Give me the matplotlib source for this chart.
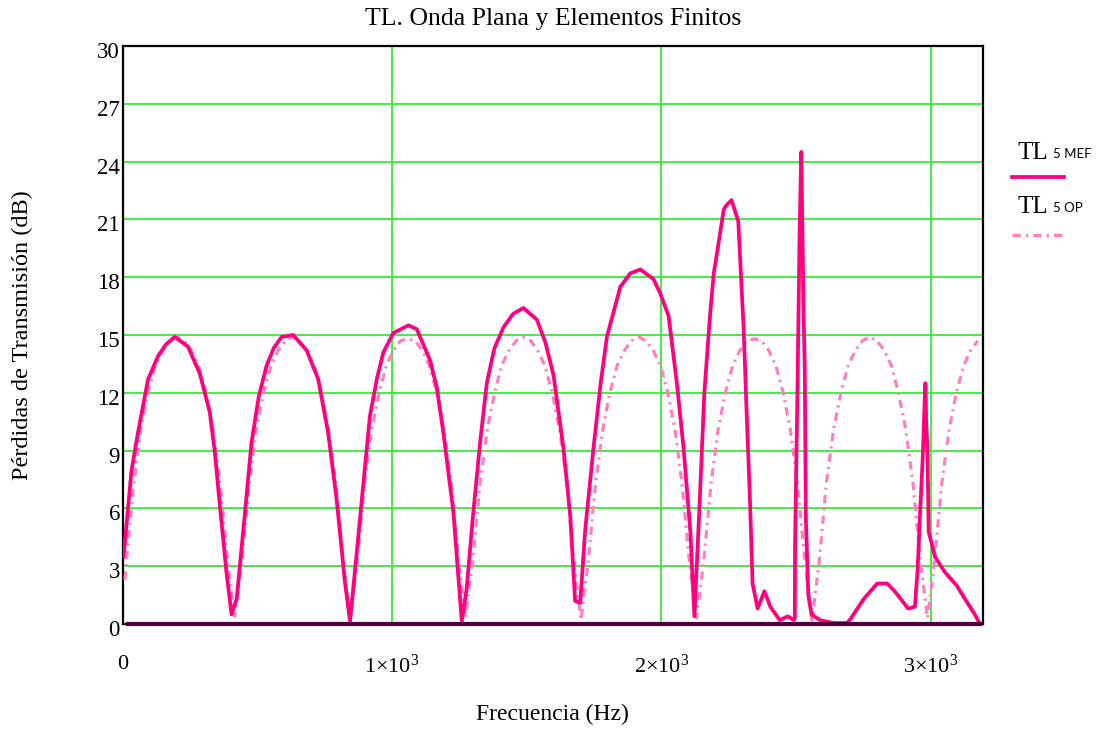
import matplotlib.pyplot as plt
import matplotlib.transforms as mtransforms
from matplotlib.lines import Line2D

# TL onda plana (OP)
op_freq = [8, 14, 41, 67, 94, 121, 148, 175, 201, 228, 255, 282, 309, 335, 362, 389, 416,
           443, 470, 496, 523, 550, 577, 604, 630, 657, 684, 711, 738, 764, 791, 818, 845,
           871, 898, 925, 952, 979, 1005, 1032, 1059, 1086, 1113, 1139, 1166, 1193, 1220, 1247, 1273,
           1300, 1327, 1354, 1381, 1407, 1434, 1461, 1488, 1515, 1541, 1568, 1595, 1622, 1649, 1675, 1702,
           1729, 1756, 1783, 1809, 1836, 1863, 1890, 1917, 1943, 1970, 1997, 2024, 2051, 2077, 2104, 2131,
           2158, 2185, 2211, 2238, 2265, 2292, 2319, 2345, 2372, 2399, 2426, 2453, 2479, 2506, 2533, 2560,
           2587, 2613, 2640, 2667, 2694, 2721, 2747, 2774, 2801, 2828, 2855, 2881, 2908, 2935, 2962, 2989,
           3015, 3042, 3069, 3096, 3123, 3149, 3176]
op_tl = [2.3, 3.3, 7.3, 10.1, 12.0, 13.4, 14.2, 14.7, 14.9, 14.7, 14.2, 13.4, 12.0, 10.1, 7.3, 3.3, 0.4,
         3.3, 7.3, 10.1, 12.0, 13.4, 14.2, 14.7, 14.9, 14.7, 14.2, 13.4, 12.0, 10.1, 7.3, 3.3, 0.2,
         3.3, 7.3, 10.1, 12.0, 13.4, 14.2, 14.7, 14.8, 14.7, 14.2, 13.4, 12.0, 10.1, 7.3, 3.3, 0.3,
         3.3, 7.3, 10.1, 12.0, 13.4, 14.2, 14.7, 14.9, 14.7, 14.2, 13.4, 12.0, 10.1, 7.3, 3.3, 0.2,
         3.3, 7.3, 10.1, 12.0, 13.4, 14.2, 14.7, 14.9, 14.7, 14.2, 13.4, 12.0, 10.1, 7.3, 3.3, 0.3,
         3.3, 7.3, 10.1, 12.0, 13.4, 14.2, 14.7, 14.8, 14.7, 14.2, 13.4, 12.0, 10.1, 7.3, 3.3, 0.2,
         3.3, 7.3, 10.1, 12.0, 13.4, 14.2, 14.7, 14.9, 14.7, 14.2, 13.4, 12.0, 10.1, 7.3, 3.3, 0.3,
         3.3, 7.3, 10.1, 12.0, 13.4, 14.2, 14.7]

# TL elementos finitos (MEF)
mef_freq = [3, 32, 56, 94, 131, 160, 193, 242, 286, 323,
            342, 361, 385, 404, 423, 454, 478, 505, 534, 560,
            590, 633, 683, 726, 763, 794, 825, 844, 862, 893,
            918, 945, 968, 1005, 1061, 1092, 1141, 1166, 1191, 1228,
            1259, 1277, 1300, 1327, 1352, 1380, 1414, 1450, 1488, 1538,
            1570, 1600, 1637, 1662, 1680, 1699, 1717, 1748, 1775, 1798,
            1848, 1885, 1922, 1971, 1995, 2027, 2058, 2083, 2108, 2123,
            2140, 2160, 2181, 2195, 2212, 2232, 2240, 2261, 2286, 2306,
            2317, 2329, 2339, 2358, 2383, 2405, 2440, 2470, 2492, 2496,
            2497, 2502, 2506, 2510, 2514, 2520, 2524, 2528, 2533, 2537,
            2546, 2558, 2589, 2640, 2690, 2703, 2752, 2802, 2839, 2867,
            2917, 2942, 2952, 2960, 2972, 2978, 2981, 2984, 2989, 2993,
            3004, 3016, 3053, 3097, 3128, 3160, 3180]
mef_tl = [3.5, 7.9, 9.9, 12.7, 13.9, 14.5, 14.9, 14.4, 13.0, 11.0,
          8.9, 6.1, 2.7, 0.5, 1.3, 5.8, 9.4, 11.8, 13.4, 14.3,
          14.9, 15.0, 14.2, 12.7, 9.9, 6.5, 2.2, 0.15, 2.7, 7.2,
          10.8, 12.8, 14.1, 15.1, 15.5, 15.3, 13.7, 12.3, 9.9, 5.8,
          0.15, 1.8, 5.5, 9.4, 12.5, 14.3, 15.4, 16.1, 16.4, 15.8,
          14.6, 12.9, 9.1, 5.6, 1.2, 1.1, 4.8, 9.1, 12.5, 14.9,
          17.5, 18.2, 18.4, 17.9, 17.2, 16.0, 12.5, 9.1, 4.8, 0.4,
          5.5, 12.0, 16.0, 18.2, 19.7, 21.5, 21.7, 22.0, 20.9, 15.3,
          11.0, 6.6, 2.1, 0.8, 1.7, 0.9, 0.2, 0.4, 0.2, 0.3,
          4.2, 8.7, 12.3, 16.4, 20.6, 24.5, 20.6, 16.6, 13.2, 5.5,
          1.5, 0.5, 0.2, 0.05, 0.05, 0.26, 1.3, 2.1, 2.1, 1.7,
          0.8, 0.9, 2.8, 5.4, 8.9, 11.5, 12.5, 10.5, 8.9, 4.8,
          4.2, 3.5, 2.7, 2.0, 1.3, 0.6, 0.1]

# third trace: zero line
zero_freq = [20, 3183]
zero_tl = [0, 0]

y_ticks = [0, 3, 6, 9, 12, 15, 18, 21, 24, 27, 30]
x_ticks = [0, 1000, 2000, 3000]
x_tick_labels = ['0', '1×10$^{3}$', '2×10$^{3}$', '3×10$^{3}$']

MEF_COLOR = '#ff0080'
OP_COLOR = '#ff80c0'
GRID_COLOR = '#33ee33'
OP_DASHES = [2.6, 1.6, 0.7, 1.6]

plt.rcParams['font.family'] = 'Liberation Serif'
plt.rcParams['mathtext.fontset'] = 'custom'
plt.rcParams['mathtext.rm'] = 'Liberation Serif'
plt.rcParams['mathtext.it'] = 'Liberation Serif'

fig = plt.figure(figsize=(10.97, 7.31), dpi=100)
ax = fig.add_axes([0.1119, 0.1464, 0.8961 - 0.1119, 0.9371 - 0.1464])

ax.set_xlim(0, 3195)
ax.set_ylim(0, 30)

# grid
for yv in y_ticks[1:-1]:
    ax.axhline(yv, color=GRID_COLOR, lw=1.3, zorder=1)
for xv in x_ticks[1:]:
    ax.axvline(xv, color=GRID_COLOR, lw=1.3, zorder=1)

ax.plot(op_freq, op_tl, color=OP_COLOR, lw=2.3, dashes=OP_DASHES, zorder=3)
ax.plot(mef_freq, mef_tl, color=MEF_COLOR, lw=2.7, zorder=4)
ax.plot(zero_freq, zero_tl, color='#4b003c', lw=3.0, zorder=5, clip_on=False)

for side in ['left', 'top', 'right', 'bottom']:
    ax.spines[side].set_color('black')
    ax.spines[side].set_linewidth(1.6)

ax.set_yticks(y_ticks)
ax.set_xticks(x_ticks)
ax.set_xticklabels(x_tick_labels)
ax.tick_params(axis='y', length=0, labelsize=16.5, pad=2)
ax.tick_params(axis='x', length=0, labelsize=16, pad=22)

# y labels sit a few pixels low in the original
shift = mtransforms.ScaledTranslation(0, -4 / 100, fig.dpi_scale_trans)
for lab in ax.get_yticklabels():
    lab.set_transform(lab.get_transform() + shift)

fig.text(0.504, 1 - 19 / 731, 'TL. Onda Plana y Elementos Finitos', ha='center', va='center',
         fontsize=18.5)
fig.text(0.504, 1 - 714 / 731, 'Frecuencia (Hz)', ha='center', va='center', fontsize=17)
fig.text(22 / 1097, 1 - 335 / 731, 'Pérdidas de Transmisión (dB)', ha='center', va='center',
         rotation=90, fontsize=17.5)

# legend drawn by hand, Mathcad style
fig.text(1017 / 1097, 1 - 153 / 731, 'TL', ha='left', va='center', fontsize=18)
fig.text(1053 / 1097, 1 - 153.5 / 731, '5 MEF', ha='left', va='center', fontsize=9.5,
         family='Lato')
fig.add_artist(Line2D([1012 / 1097, 1064 / 1097], [1 - 177 / 731, 1 - 177 / 731],
                      color=MEF_COLOR, lw=2.7))
fig.text(1017 / 1097, 1 - 207 / 731, 'TL', ha='left', va='center', fontsize=18)
fig.text(1053 / 1097, 1 - 207.5 / 731, '5 OP', ha='left', va='center', fontsize=9.5,
         family='Lato')
fig.add_artist(Line2D([1012 / 1097, 1064 / 1097], [1 - 235 / 731, 1 - 235 / 731],
                      color=OP_COLOR, lw=2.3, dashes=OP_DASHES))

fig.savefig('out.png', dpi=100)
